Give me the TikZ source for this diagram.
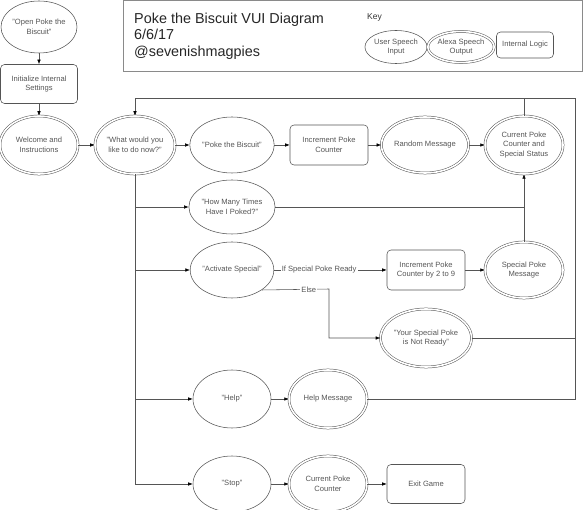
\documentclass[tikz,border=0pt]{standalone}
\usepackage{fontspec}
\setmainfont{Liberation Sans}
\usetikzlibrary{shapes.geometric,arrows.meta}
\definecolor{linec}{HTML}{555555}
\definecolor{txtc}{HTML}{555555}
\definecolor{boxc}{HTML}{8A8A8A}
\tikzset{
  base/.style={draw=linec, line width=0.55pt, text=txtc, align=center, inner sep=0pt,
    font=\fontsize{7.6}{9.5}\selectfont},
  userin/.style={base, ellipse, minimum width=78pt, minimum height=56pt},
  alexa/.style={base, ellipse, minimum width=78pt, minimum height=56pt,
    double=white, double distance=1.6pt, line width=0.5pt},
  logic/.style={base, rectangle, rounded corners=4pt, minimum width=78pt, minimum height=40pt},
  conn/.style={draw=linec, line width=0.55pt, -{Latex[length=4.5pt,width=3.5pt,black]}},
  plain/.style={draw=linec, line width=0.55pt},
  lbl/.style={fill=white, text=txtc, inner sep=1pt, font=\fontsize{7.6}{9}\selectfont}
}
\begin{document}
\begin{tikzpicture}[x=1pt,y=-1pt]
\useasboundingbox (0,0) rectangle (587,510);
% title box
\draw[draw=boxc, line width=0.7pt] (123,0.5) rectangle (582,71);
\node[anchor=west, align=left, text=black!85, font=\fontsize{14.4}{16.5}\selectfont, inner sep=0pt] (title) at (134,36)
  {Poke the Biscuit VUI Diagram\\6/6/17\\@sevenishmagpies};
\node[anchor=west, text=black!80, font=\fontsize{8.5}{10}\selectfont, inner sep=0pt] (key) at (367,17) {Key};
\node[userin, minimum width=58pt, minimum height=33pt] (k1) at (396,47) {User Speech\\Input};
\node[alexa, minimum width=56pt, minimum height=31pt] (k2) at (461,47) {Alexa Speech\\Output};
\node[logic, minimum width=57pt, minimum height=26pt] (k3) at (525,45) {Internal Logic};

% nodes
\node[userin, minimum width=76pt, minimum height=52pt] (open) at (39,27) {"Open Poke the\\Biscuit"};
\node[logic, minimum width=77pt, minimum height=39pt] (init) at (39,84) {Initialize Internal\\Settings};
\node[alexa, minimum height=58pt] (welcome) at (39,145) {Welcome and\\Instructions};
\node[alexa, minimum height=58pt] (what) at (135,145) {"What would you\\like to do now?"};
\node[userin] (poke) at (232,145) {"Poke the Biscuit"};
\node[logic] (inc) at (329,145) {Increment Poke\\Counter};
\node[alexa, minimum width=78pt] (random) at (425,145) {Random Message};
\node[alexa, minimum height=58pt] (curr) at (524,145) {Current Poke\\Counter and\\Special Status};
\node[userin, minimum height=54pt] (howmany) at (232,207) {"How Many Times\\Have I Poked?"};
\node[userin] (activate) at (232,270) {"Activate Special"};
\node[logic] (inc2) at (426,270) {Increment Poke\\Counter by 2 to 9};
\node[alexa] (special) at (524,270) {Special Poke\\Message};
\node[alexa, minimum height=58pt] (notready) at (426,338) {"Your Special Poke\\is Not Ready"};
\node[userin, minimum height=58pt] (help) at (232,399) {"Help"};
\node[alexa, minimum height=58pt] (helpmsg) at (328,399) {Help Message};
\node[userin] (stop) at (232,484) {"Stop"};
\node[alexa] (stopcnt) at (328,484) {Current Poke\\Counter};
\node[logic, minimum height=39pt] (exit) at (426,484) {Exit Game};

\coordinate (loopR) at (575,98);
\coordinate (loopL) at (135,98);
\coordinate (elseA) at (329,289);

% connectors
\draw[conn] (open) -- (init);
\draw[conn] (init) -- (welcome);
\draw[conn] (welcome) -- (what);
\draw[conn] (what) -- (poke);
\draw[conn] (poke) -- (inc);
\draw[conn] (inc) -- (random);
\draw[conn] (random) -- (curr);
\draw[plain] (curr.north) -- (curr.north |- loopR);
\draw[conn] (helpmsg.east) -- (loopR |- helpmsg) -- (loopR) -- (loopL) -- (what.north);
\draw[plain] (notready.east) -- (loopR |- notready);
\draw[conn] (what.south) -- (what.south |- stop) -- (stop.west);
\draw[conn] (what.south |- howmany) -- (howmany.west);
\draw[conn] (what.south |- activate) -- (activate.west);
\draw[conn] (what.south |- help) -- (help.west);
\draw[plain] (howmany.east) -- (curr.south |- howmany);
\draw[conn] (special.north) -- (curr.south);
\draw[conn] (activate.east) -- node[lbl, pos=0.4] {If Special Poke Ready} (inc2.west);
\draw[conn] (inc2) -- (special);
\draw[conn] (activate.south east) -- node[lbl, pos=0.7] {Else} (elseA) -- (elseA |- notready) -- (notready.west);
\draw[conn] (help) -- (helpmsg);
\draw[conn] (stop) -- (stopcnt);
\draw[conn] (stopcnt) -- (exit);
\end{tikzpicture}
\end{document}
